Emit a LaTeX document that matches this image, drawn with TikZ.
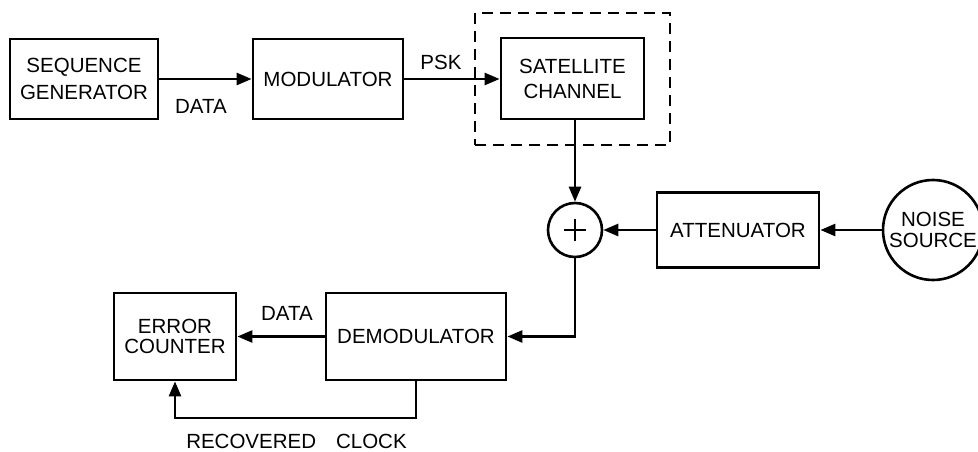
\documentclass[tikz,border=0pt]{standalone}
\usepackage{fontspec}
\setmainfont{Liberation Sans}
\usetikzlibrary{arrows.meta}
\begin{document}
\begin{tikzpicture}[x=1pt,y=-1pt, line width=2.8pt,
  blk/.style={draw, line width=2.8pt, inner sep=0pt, align=center, font=\fontsize{20.5}{24}\selectfont},
  rnd/.style={draw, circle, line width=2.6pt, inner sep=0pt, align=center, font=\fontsize{20.5}{21}\selectfont},
  lbl/.style={inner sep=0pt, font=\fontsize{20.5}{24}\selectfont},
  arr/.style={-{Triangle[length=15pt,width=12pt]}, line width=2.6pt},
  chanbox/.style={draw, line width=2.4pt, dash pattern=on 11pt off 7pt, inner sep=0pt}
]
\useasboundingbox (0,0) rectangle (978,452);
% blocks
\node[blk, minimum width=148pt, minimum height=80pt, font=\fontsize{20.5}{27}\selectfont] (seq) at (84,79) {SEQUENCE\\GENERATOR};
\node[blk, minimum width=150pt, minimum height=80pt] (mod) at (328,79) {MODULATOR};
\node[chanbox, minimum width=195pt, minimum height=132pt] (chan) at (572.5,79) {};
\node[blk, minimum width=143pt, minimum height=81pt, font=\fontsize{20.5}{25}\selectfont] (sat) at (572.5,78.5) {SATELLITE\\CHANNEL};
\node[rnd, minimum size=54pt] (sum) at (575,230) {};
\draw[line width=2.6pt] ([xshift=-11pt]sum.center) -- ([xshift=11pt]sum.center);
\draw[line width=2.6pt] ([yshift=-11pt]sum.center) -- ([yshift=11pt]sum.center);
\node[blk, minimum width=162pt, minimum height=75pt] (att) at (738,230) {ATTENUATOR};
\node[rnd, minimum size=100pt] (noise) at (933,230) {NOISE\\SOURCE};
\node[blk, minimum width=122pt, minimum height=87pt, font=\fontsize{20.5}{20}\selectfont] (err) at (175,336.5) {ERROR\\COUNTER};
\node[blk, minimum width=180pt, minimum height=87pt] (demod) at (416,336.5) {DEMODULATOR};
% connectors
\draw[arr] (seq) -- (mod);
\draw[arr] (mod.east) -- (mod.east -| sat.west);
\draw[arr] (sum.north |- sat.south) -- (sum.north);
\draw[arr] (noise) -- (att);
\draw[arr] (att) -- (sum);
\draw[arr] (sum.south) |- (demod.east);
\draw[arr] (demod) -- (err);
\coordinate (ck) at (416,418);
\draw[arr] (demod.south) -- (ck) -| (err.south);
% labels
\node[lbl] (l1) at (201,106) {DATA};
\node[lbl] (l2) at (441,62) {PSK};
\node[lbl] (l3) at (287,313) {DATA};
\node[lbl] (l4) at (296.5,441.5) {RECOVERED\hspace{20pt}CLOCK};
\end{tikzpicture}
\end{document}
